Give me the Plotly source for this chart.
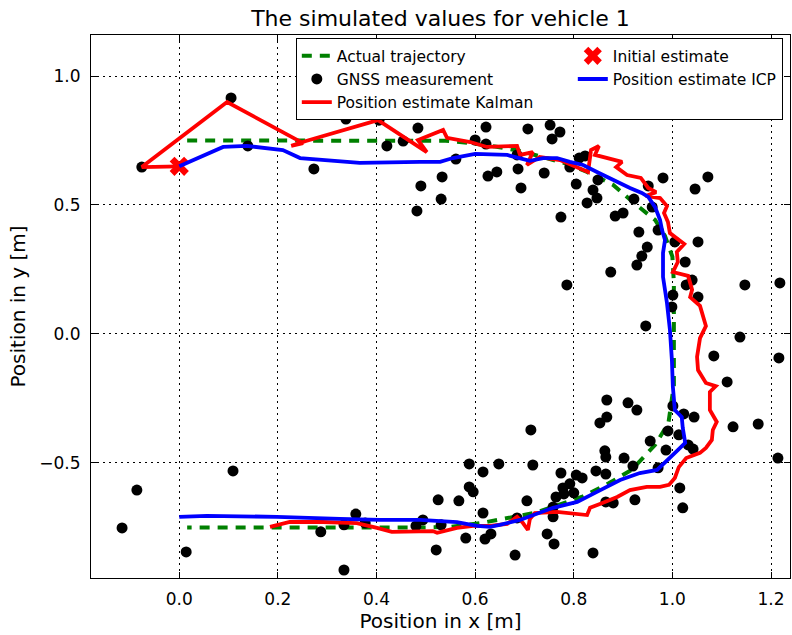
import plotly.graph_objects as go

# ---------------- data (metres) ----------------
actual_x = [0.016, 0.5, 0.54, 0.59, 0.64, 0.69, 0.73, 0.786, 0.827, 0.88, 0.922, 0.965, 0.985,
            1.0, 1.003, 1.003, 0.999, 0.992, 0.965, 0.945, 0.917, 0.87, 0.816, 0.72, 0.612, 0.55,
            0.5, 0.016]
actual_y = [0.75, 0.75, 0.749, 0.74, 0.727, 0.71, 0.69, 0.66, 0.628, 0.578, 0.508, 0.442, 0.38,
            0.3, 0.2, -0.2, -0.25, -0.345, -0.43, -0.47, -0.527, -0.58, -0.632, -0.694, -0.733,
            -0.748, -0.75, -0.75]

gnss_x = [-0.076, 0.105, 0.139, 0.273, 0.338, 0.405, 0.421, 0.454, 0.484, 0.490, 0.482, 0.533,
          0.531, 0.561, 0.600, 0.622, 0.622, 0.626, 0.644, 0.687, 0.693, 0.707, 0.685, 0.740,
          0.752, 0.772, 0.756, 0.805, 0.792, 0.811, 0.823, 0.774, 0.827, 0.839, 0.847, 0.849,
          0.884, 0.900, 0.932, 0.922, 0.951, 0.959, 0.981, 1.046, 1.072, 0.971, 1.052, 1.005,
          0.949, 0.938, 0.928, 0.875, 0.786, 1.026, 1.040, 1.028, 1.052, 1.001, 0.999, 1.147,
          1.218, 0.946, 1.137, 1.084, 1.216, 1.111, 0.867, 0.910, 0.928, 0.867, 0.853, 0.713,
          1.001, 1.023, 1.044, 1.013, 1.032, 1.042, 0.991, 0.955, 0.987, 1.123, 1.174, 1.214,
          0.863, 0.865, 0.902, 0.920, 0.971, 0.845, 0.865, 0.774, 0.805, 0.817, 0.792, 0.778,
          0.780, 0.800, 0.764, 0.758, 0.758, 0.865, 0.880, 0.924, 1.015, 1.021, 0.717, 0.705,
          0.746, 0.760, 0.839, 0.588, 0.616, 0.648, 0.588, 0.596, 0.525, 0.567, 0.494, 0.480,
          0.531, 0.616, 0.581, 0.620, 0.632, 0.521, 0.681, 0.685, -0.086, -0.116, 0.014, 0.109,
          0.287, 0.334, 0.358, 0.377, 0.334]
gnss_y = [0.647, 0.915, 0.729, 0.640, 0.833, 0.829, 0.729, 0.748, 0.798, 0.574, 0.477, 0.609,
          0.523, 0.678, 0.752, 0.802, 0.736, 0.612, 0.628, 0.640, 0.566, 0.795, 0.694, 0.624,
          0.810, 0.783, 0.756, 0.581, 0.647, 0.682, 0.690, 0.453, 0.508, 0.558, 0.527, 0.597,
          0.457, 0.469, 0.395, 0.523, 0.574, 0.492, 0.605, 0.562, 0.609, 0.403, 0.357, 0.357,
          0.337, 0.302, 0.267, 0.240, 0.190, 0.279, 0.209, 0.190, 0.143, 0.151, 0.105, 0.190,
          0.198, 0.031, -0.012, -0.085, -0.093, -0.186, -0.256, -0.267, -0.295, -0.322, -0.345,
          -0.372, -0.279, -0.310, -0.322, -0.391, -0.430, -0.446, -0.376, -0.415, -0.450, -0.360,
          -0.349, -0.481, -0.453, -0.477, -0.481, -0.512, -0.519, -0.531, -0.543, -0.539, -0.547,
          -0.558, -0.581, -0.597, -0.620, -0.616, -0.632, -0.671, -0.709, -0.651, -0.655, -0.643,
          -0.597, -0.674, -0.508, -0.647, -0.775, -0.814, -0.849, -0.504, -0.535, -0.504, -0.593,
          -0.612, -0.643, -0.647, -0.721, -0.744, -0.740, -0.694, -0.791, -0.795, -0.775, -0.837,
          -0.857, -0.713, -0.605, -0.752, -0.845, -0.531, -0.767, -0.740, -0.698, -0.733, -0.915]

kalman_x = [0.0, -0.076, 0.097, 0.251, 0.227, 0.257, 0.403, 0.502, 0.484, 0.535, 0.543, 0.590,
            0.624, 0.685, 0.691, 0.717, 0.705, 0.731, 0.772, 0.813, 0.829, 0.835, 0.851, 0.843,
            0.898, 0.886, 0.908, 0.936, 0.951, 0.967, 0.946, 0.975, 0.989, 0.983, 0.991, 0.995,
            1.024, 1.009, 1.011, 1.001, 1.032, 1.040, 1.036, 1.056, 1.068, 1.056, 1.050, 1.052,
            1.068, 1.088, 1.076, 1.076, 1.090, 1.082, 1.080, 1.068, 1.056, 1.028, 1.013, 1.005,
            0.993, 0.975, 0.948, 0.914, 0.888, 0.853, 0.833, 0.827, 0.798, 0.766, 0.721, 0.711,
            0.707, 0.697, 0.685, 0.665, 0.630, 0.596, 0.563, 0.523, 0.514, 0.468, 0.431, 0.401,
            0.360, 0.291, 0.224, 0.184]
kalman_y = [0.65, 0.647, 0.899, 0.740, 0.729, 0.748, 0.829, 0.705, 0.752, 0.791, 0.760, 0.744,
            0.725, 0.729, 0.694, 0.705, 0.655, 0.686, 0.674, 0.643, 0.628, 0.713, 0.729, 0.694,
            0.667, 0.647, 0.616, 0.605, 0.566, 0.550, 0.535, 0.527, 0.496, 0.469, 0.434, 0.391,
            0.349, 0.318, 0.279, 0.240, 0.225, 0.171, 0.143, 0.109, 0.031, -0.016, -0.089, -0.140,
            -0.190, -0.202, -0.225, -0.295, -0.341, -0.372, -0.411, -0.442, -0.461, -0.481, -0.516,
            -0.558, -0.585, -0.593, -0.593, -0.605, -0.632, -0.659, -0.674, -0.702, -0.698, -0.690,
            -0.694, -0.717, -0.760, -0.733, -0.709, -0.736, -0.744, -0.744, -0.752, -0.771, -0.764,
            -0.764, -0.767, -0.752, -0.733, -0.729, -0.729, -0.748]

icp_x = [0.0, 0.089, 0.137, 0.210, 0.245, 0.366, 0.488, 0.529, 0.555, 0.600, 0.665, 0.691,
         0.711, 0.738, 0.766, 0.792, 0.819, 0.847, 0.880, 0.914, 0.938, 0.951, 0.965, 0.975,
         0.979, 0.985, 0.981, 0.981, 0.989, 0.995, 0.999, 1.001, 1.005, 1.019, 1.021, 1.026,
         1.011, 0.989, 0.969, 0.934, 0.894, 0.847, 0.807, 0.758, 0.717, 0.691, 0.650, 0.630,
         0.604, 0.563, 0.488, 0.407, 0.326, 0.198, 0.056, 0.0]
icp_y = [0.65, 0.725, 0.729, 0.713, 0.682, 0.663, 0.667, 0.667, 0.682, 0.698, 0.694, 0.682,
         0.671, 0.682, 0.682, 0.667, 0.655, 0.628, 0.597, 0.566, 0.547, 0.531, 0.492, 0.442,
         0.403, 0.364, 0.314, 0.221, 0.120, 0.016, -0.101, -0.205, -0.295, -0.322, -0.364,
         -0.422, -0.450, -0.488, -0.527, -0.539, -0.566, -0.612, -0.651, -0.674, -0.702, -0.721,
         -0.740, -0.748, -0.744, -0.729, -0.721, -0.721, -0.717, -0.709, -0.705, -0.709]

init_x = [0.0]
init_y = [0.65]

x_ticks = [0.0, 0.2, 0.4, 0.6, 0.8, 1.0, 1.2]
y_ticks = [-0.5, 0.0, 0.5, 1.0]

FONT = "DejaVu Sans"

fig = go.Figure()
fig.add_trace(go.Scatter(x=actual_x, y=actual_y, mode="lines", name="Actual trajectory",
                         line=dict(color="#008000", width=4, dash="10px,8px"),
                         legendrank=1, legendwidth=231))
fig.add_trace(go.Scatter(x=gnss_x, y=gnss_y, mode="markers", name="GNSS measurement",
                         marker=dict(color="black", size=11, symbol="circle"),
                         legendrank=3, legendwidth=231))
fig.add_trace(go.Scatter(x=kalman_x, y=kalman_y, mode="lines", name="Position estimate Kalman",
                         line=dict(color="#FF0000", width=3.8),
                         legendrank=5, legendwidth=231))
fig.add_trace(go.Scatter(x=init_x, y=init_y, mode="markers", name="Initial estimate",
                         marker=dict(color="#FF0000", size=17, symbol="x", line=dict(width=0)),
                         legendrank=2, legendwidth=164))
fig.add_trace(go.Scatter(x=icp_x, y=icp_y, mode="lines", name="Position estimate ICP",
                         line=dict(color="#0000FF", width=3.8),
                         legendrank=4, legendwidth=164))

axis_common = dict(
    showgrid=True, gridcolor="black", gridwidth=1, griddash="1.5px,4.5px",
    zeroline=False, showline=True, linecolor="black", linewidth=1, mirror="ticks",
    ticks="inside", ticklen=6, tickcolor="black", tickwidth=1,
    tickfont=dict(family=FONT, size=17, color="black"), tickformat=".1f",
)

fig.update_layout(
    width=792, height=635,
    margin=dict(l=91, r=2, t=35, b=57),
    paper_bgcolor="white", plot_bgcolor="white",
    font=dict(family=FONT, color="black"),
    title=dict(text="The simulated values for vehicle 1", x=0.5, xref="paper",
               xanchor="center", y=1 - 18 / 635, yref="container", yanchor="middle",
               font=dict(family=FONT, size=22, color="black")),
    xaxis=dict(range=[-0.179, 1.2385], tickvals=x_ticks,
               title=dict(text="Position in x [m]", font=dict(family=FONT, size=20), standoff=4),
               ticklabelstandoff=6, **axis_common),
    yaxis=dict(range=[-0.946, 1.159], tickvals=y_ticks,
               title=dict(text="Position in y [m]", font=dict(family=FONT, size=20), standoff=8),
               ticklabelstandoff=6, **axis_common),
    legend=dict(orientation="h", x=0.293, y=0.994, xanchor="left", yanchor="top",
                bordercolor="black", borderwidth=1, bgcolor="white",
                font=dict(family=FONT, size=15.5, color="black"),
                traceorder="normal"),
    showlegend=True,
)

fig.write_html("out.html")
